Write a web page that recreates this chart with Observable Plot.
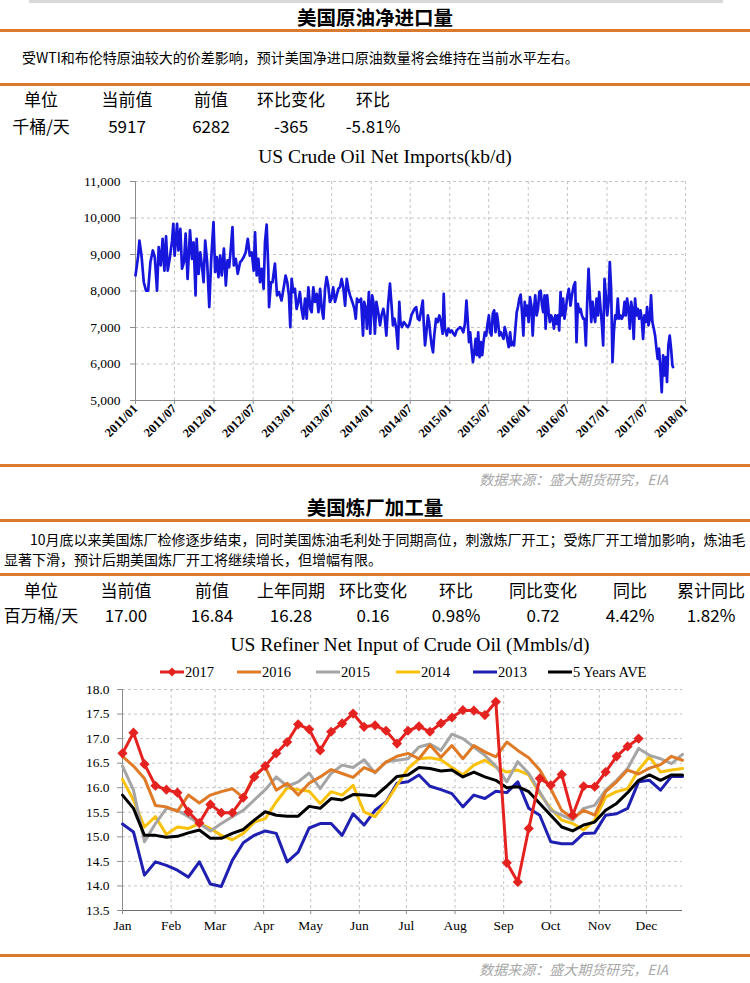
<!DOCTYPE html>
<html><head><meta charset="utf-8">
<script src="https://cdn.jsdelivr.net/npm/d3@7"></script>
<script src="https://cdn.jsdelivr.net/npm/@observablehq/plot@0.6"></script>
<style>
body{margin:0;background:#fff;}
#page{position:relative;width:750px;height:983px;overflow:hidden;font-family:"Noto Sans CJK SC",sans-serif;color:#000;background:#fff;}
.hr{position:absolute;left:0;width:750px;height:3px;background:#DB792C;}
.title{position:absolute;left:0;width:750px;text-align:center;font-size:19.5px;font-weight:bold;line-height:22px;}
.txt{position:absolute;font-size:14px;line-height:20px;white-space:nowrap;}
.src{position:absolute;font-size:14px;font-style:italic;color:#a8a8a8;line-height:18px;white-space:nowrap;transform:translateX(-100%);}
.cell{position:absolute;font-size:17px;line-height:20px;transform:translateX(-50%);white-space:nowrap;}
.ctitle{position:absolute;font-family:"Liberation Serif",serif;font-size:19.5px;line-height:22px;transform:translateX(-50%);white-space:nowrap;}
.leg{position:absolute;font-family:"Liberation Serif",serif;font-size:14.5px;line-height:16px;white-space:nowrap;display:flex;align-items:center;}
.chart{position:absolute;left:0;}
</style></head>
<body><div id="page"></div>
<script>
// ---------- data: chart 1 ----------
const importTicks = ["2011/01","2011/07","2012/01","2012/07","2013/01","2013/07","2014/01","2014/07","2015/01","2015/07","2016/01","2016/07","2017/01","2017/07","2018/01"];
const importYTicks = [5000,6000,7000,8000,9000,10000,11000];
// weeks since 2011-01-01
const importWeek = [0,1.8,2.6,4,5.5,7,8.4,9.9,11.5,12.8,14.3,15.4,16.8,18,19.2,20.3,21.4,22.7,24.3,25.1,26,27.6,28.5,29.8,30.9,32.2,33.3,34.6,36.2,37.5,38.6,39.9,40.6,41.9,43,44.1,45.2,46.3,47.6,49,50.3,51.8,52.9,54,55.1,56.2,57.3,58.7,60,61.1,62.2,63.3,64.4,65.3,66.6,67.9,69.5,70.6,71.9,73.2,74.6,75.9,77.2,78.5,79.4,80.5,81.6,82.7,83.8,85.1,86,
87.1,88.2,88.7,90,91,92.6,94,95.3,97,98.1,99.7,100.8,101.9,102.8,103.7,104.8,105.9,107,108.1,109.2,110.3,111.4,112.6,113.7,114.8,116.1,117,118.1,119.2,120.4,121.5,122.6,123.7,124.8,125.9,126.9,128,129.1,130.2,131.3,132.5,133.6,134.7,135.8,136.9,138,139.2,140.3,141.4,142.5,144,145.4,146.3,147.1,148.4,149.8,151.1,151.9,153,153.7,155,155.9,157.2,158,159,160,161.2,162.4,163.4,164.6,165.4,166.6,167.7,169,169.9,171,172,173.2,174.3,175.2,176,177,178.2,
179.8,180.9,182,183.2,184.2,185.3,186.4,187.5,188.6,189.7,190.8,191.4,192.3,193.2,194.2,195,195.9,196.7,197.6,198.4,199.6,200.7,201.8,202.9,204,204.7,205.5,206.7,207.8,209,210,211.1,212.2,213.3,214.5,215.5,216.6,217.7,218.8,219.8,220.6,221.5,222.3,223.2,224.1,225,225.9,226.7,227.6,228.5,229.4,230.3,231.1,232,232.9,233.8,234.7,235.5,236.4,237.3,238.2,239.1,240,240.8,241.7,242.6,243.5,244.4,245.2,246.1,247,247.9,248.8,249.7,250.5,251.4,252.3,253.2,254,254.9,255.8,256.7,257.6,258.5,259.3,260.2,261.1,262,262.9,263.8,264.7,265.5,266.4,267.3,268.2,269.1,270,270.8,
271.7,272.4,273.4,274.4,275.2,276.1,277,277.9,278.8,279.6,280.5,281.4,282.3,283.1,284,284.9,285.8,286.7,287.8,288.9,290,291.1,292,292.9,293.8,294.7,295.6,296.5,297.4,298.2,299.1,300,300.9,301.8,302.7,303.6,304.5,305.3,306.2,307.1,308,308.9,309.8,310.6,311.5,312.4,313.3,314.2,315,315.9,316.8,317.7,318.6,319.5,320.3,321.2,322.1,323,323.9,324.8,325.6,326.5,327.4,328.3,329.2,330,330.9,331.8,332.7,333.6,334.5,335.4,336.2,337.1,338,338.9,339.8,340.7,341.6,342.4,343.3,344.2,345.1,346,346.8,347.7,348.6,349.5,350.4,351.3,352.2,353,353.9,354.8,355.7,356.6,357];
const importKbd = [8425,8970,9380,8970,8240,8010,8010,8790,9110,8930,8010,9200,8700,9430,8560,9500,8560,8880,9380,9840,8970,9840,9110,9700,8610,8790,9570,8330,9660,8880,9330,7880,9430,8470,9060,8700,8240,9380,8790,7560,8880,9890,8520,8930,8380,8970,8425,9160,8150,8840,8650,9160,9750,8700,8880,8470,8790,8840,8930,9060,9430,8970,9060,8560,9610,8425,8880,8240,8610,8060,9330,
9820,8600,7560,8240,8240,8750,7880,7970,7740,8010,8425,8240,7880,7010,8330,7970,8060,7510,7700,7970,7510,7240,7790,7240,8100,7510,7420,8100,7700,7920,7420,8060,7510,7240,8060,8380,8150,7700,7790,8100,7700,7880,8060,8100,8330,8100,7600,8330,8060,7880,7700,7510,7240,7790,7700,7790,6780,7700,7510,6970,7970,6830,7880,7700,6830,7700,7420,7060,7330,7510,7330,6780,7600,8200,7700,7060,7240,6970,6420,7700,7150,7010,7150,
7060,7010,7100,7330,7420,7510,7560,7240,7200,7470,7740,7150,6510,6870,7330,7150,6780,6510,6320,6780,7240,7150,7330,7150,6830,7920,6970,6780,6970,6870,6920,6830,6780,6920,6970,7010,6970,6870,7100,7740,7240,6600,6870,6420,6050,6320,6690,6240,6870,6190,6600,6240,6600,6870,6780,7100,7330,6870,6780,7380,7470,6870,7380,7150,6780,6870,6780,6690,7010,6870,6650,6460,6870,6510,6600,6510,6970,7420,7560,7790,7900,7420,6780,7700,7330,7600,7150,7830,7600,6780,7510,7880,7330,7510,7970,8010,7600,7420,
7880,6970,7880,7420,7150,7330,7240,6970,7330,7100,7330,6920,7970,7330,7790,7240,7510,7830,8060,7600,7920,8150,8240,6600,7650,7420,7510,7330,7240,7240,6510,7700,8610,7880,7150,7700,7330,7150,7790,7330,7970,7510,7060,6510,8330,7880,7330,7700,8790,8060,6050,6870,7330,7240,7790,7240,7330,7240,7330,7700,7330,7790,7510,6970,7700,7510,6690,7790,7330,7510,7240,7470,7240,6690,7330,7150,7560,7060,7240,7880,7150,6970,6780,6420,6140,6420,5870,5230,6240,5690,6190,5510,6510,6780,6420,5960,5917];

// ---------- data: chart 2 ----------
const months = ["Jan","Feb","Mar","Apr","May","Jun","Jul","Aug","Sep","Oct","Nov","Dec"];
const refinerYTicks = [13.5,14.0,14.5,15.0,15.5,16.0,16.5,17.0,17.5,18.0];
const seriesNames = ["2017","2016","2015","2014","2013","5 Years AVE"];
const seriesColors = ["#E42320","#DF7A26","#A5A5A5","#F9C10A","#1F1FB2","#000000"];
const r2017 = [16.70,17.12,16.48,16.04,15.96,15.90,15.51,15.28,15.66,15.49,15.49,15.80,16.22,16.44,16.70,16.93,17.29,17.19,16.76,17.14,17.31,17.51,17.24,17.27,17.16,16.90,17.16,17.25,17.14,17.31,17.43,17.58,17.57,17.48,17.75,14.47,14.08,15.17,16.19,16.05,16.27,15.44,16.03,16.02,16.32,16.64,16.84,17.00];
const r2016 = [16.64,16.44,16.19,15.64,15.61,15.52,15.85,15.69,15.85,15.92,15.98,15.80,16.26,16.42,15.95,16.09,15.85,16.09,16.22,16.37,16.29,16.21,16.41,16.32,16.52,16.64,16.70,16.59,16.87,16.62,16.86,16.59,16.86,16.73,16.63,16.93,16.76,16.61,16.36,15.98,15.54,15.37,15.54,15.44,15.92,16.12,16.36,16.28,16.40,16.47,16.64,16.56];
const r2015 = [16.44,15.95,14.90,15.27,15.58,15.54,15.41,15.27,15.12,15.27,15.41,15.54,15.75,15.96,16.22,16.03,16.12,16.30,15.98,16.29,16.46,16.41,16.57,16.30,16.53,16.56,16.59,16.83,16.89,16.76,17.09,17.00,16.83,16.66,16.44,16.12,16.53,16.29,15.92,15.54,15.44,15.34,15.58,15.64,15.95,16.15,16.39,16.80,16.66,16.59,16.49,16.68];
const r2014 = [16.17,15.75,15.20,15.41,15.05,15.20,15.17,15.27,15.17,15.03,14.94,15.07,15.30,15.37,15.71,16.00,15.96,15.93,15.68,15.92,15.85,16.05,15.51,15.41,15.70,16.05,16.39,16.59,16.61,16.57,16.41,16.26,16.46,16.56,16.42,16.32,16.36,16.26,15.88,15.58,15.34,15.27,15.14,15.34,15.81,15.92,15.98,16.36,16.63,16.32,16.36,16.39];
const r2013 = [15.26,15.10,14.22,14.49,14.42,14.32,14.18,14.49,14.04,13.99,14.52,14.88,15.03,15.12,15.07,14.49,14.69,15.18,15.27,15.27,15.03,15.47,15.24,15.54,15.71,16.09,16.12,16.26,16.03,15.96,15.88,15.61,15.85,15.78,15.93,15.90,16.12,15.58,15.44,14.90,14.86,14.86,15.07,15.08,15.44,15.47,15.58,16.12,16.15,15.95,16.23,16.23];
const rAve = [15.85,15.58,15.03,15.03,14.99,15.01,15.08,15.14,14.97,14.97,15.07,15.15,15.34,15.51,15.44,15.42,15.42,15.62,15.58,15.78,15.75,15.86,15.85,15.83,16.02,16.23,16.26,16.41,16.39,16.34,16.36,16.22,16.32,16.22,16.15,16.00,16.02,15.92,15.68,15.44,15.20,15.12,15.24,15.30,15.54,15.68,15.90,16.15,16.26,16.15,16.26,16.26];

// ---------- text ----------
const title1 = "美国原油净进口量";
const note1 = "受WTI和布伦特原油较大的价差影响，预计美国净进口原油数量将会维持在当前水平左右。";
const table1Head = ["单位","当前值","前值","环比变化","环比"];
const table1Vals = ["千桶/天","5917","6282","-365","-5.81%"];
const chart1Title = "US Crude Oil Net Imports(kb/d)";
const sourceText = "数据来源：盛大期货研究，EIA";
const title2 = "美国炼厂加工量";
const note2a = "　　10月底以来美国炼厂检修逐步结束，同时美国炼油毛利处于同期高位，刺激炼厂开工；受炼厂开工增加影响，炼油毛";
const note2b = "显著下滑，预计后期美国炼厂开工将继续增长，但增幅有限。";
const table2Head = ["单位","当前值","前值","上年同期","环比变化","环比","同比变化","同比","累计同比"];
const table2Vals = ["百万桶/天","17.00","16.84","16.28","0.16","0.98%","0.72","4.42%","1.82%"];
const chart2Title = "US Refiner Net Input of Crude Oil (Mmbls/d)";

// ---------- layout ----------
const page = document.getElementById("page");
function add(cls, css, text){
  const d = document.createElement("div");
  d.className = cls; Object.assign(d.style, css);
  if (text !== undefined) d.textContent = text;
  page.appendChild(d); return d;
}
add("", {position:"absolute", left:"29px", top:"0px", width:"694px", height:"3px", background:"#d9d9d9"});
add("title", {top:"6px"}, title1);
add("hr", {top:"29px"});
add("txt", {left:"22px", top:"47px"}, note1);
add("hr", {top:"83px"});
const t1X = [41,127,211,291,373];
table1Head.forEach((t,i)=>add("cell",{left:t1X[i]+"px", top:"89px"}, t));
table1Vals.forEach((t,i)=>add("cell",{left:t1X[i]+"px", top:"116px"}, t));
add("ctitle", {left:"385px", top:"146px"}, chart1Title);
add("hr", {top:"464px"});
add("src", {left:"668px", top:"470px"}, sourceText);
add("title", {top:"496px"}, title2);
add("hr", {top:"519px"});
add("txt", {left:"2px", top:"529px"}, note2a);
add("txt", {left:"4px", top:"549px"}, note2b);
add("hr", {top:"573px"});
const t2X = [41,126,212,291,373,456,543,630,711];
table2Head.forEach((t,i)=>add("cell",{left:t2X[i]+"px", top:"580px"}, t));
table2Vals.forEach((t,i)=>add("cell",{left:t2X[i]+"px", top:"605px"}, t));
add("ctitle", {left:"410px", top:"634px"}, chart2Title);
add("hr", {top:"954px"});
add("src", {left:"668px", top:"960px"}, sourceText);

// legend
const legX = [160,237,316,396,473,548];
seriesNames.forEach((n,i)=>{
  const d = add("leg", {left:legX[i]+"px", top:"664px"});
  const mk = i===0 ? `<path d="M12,0.5 L16.5,5 L12,9.5 L7.5,5 Z" fill="${seriesColors[i]}"/>` : "";
  d.innerHTML = `<svg width="24" height="10" style="margin-right:1px"><line x1="0" x2="24" y1="5" y2="5" stroke="${seriesColors[i]}" stroke-width="3"/>${mk}</svg><span>${n}</span>`;
});

// ---------- chart 1 ----------
const t0 = Date.UTC(2011,0,1);
const imp = importWeek.map((w,i)=>({date:new Date(t0 + w*7*864e5), v:importKbd[i]}));
const parseYM = d3.utcParse("%Y/%m");
const xt1 = importTicks.map(parseYM);
const grid = {stroke:"#c4c4c4", strokeOpacity:1, strokeDasharray:"3,3"};
const c1 = Plot.plot({
  width:750, height:285, marginLeft:135, marginRight:65, marginTop:11, marginBottom:55,
  style:{fontFamily:"'Liberation Serif', serif", fontSize:"13px", background:"transparent", color:"#000"},
  x:{type:"utc", domain:[xt1[0], xt1[xt1.length-1]]},
  y:{domain:[5000,11000]},
  marks:[
    Plot.gridX(xt1, grid),
    Plot.gridY(importYTicks, grid),
    Plot.ruleX([xt1[0]], {stroke:"#8c8c8c"}),
    Plot.ruleY([5000], {stroke:"#8c8c8c"}),
    Plot.axisY(importYTicks, {tickFormat:d3.format(","), tickSize:5, tickPadding:10, stroke:"#8c8c8c", label:null, fontSize:13.5}),
    Plot.axisX(xt1, {tickFormat:d3.utcFormat("%Y/%m"), tickRotate:-45, tickSize:4, tickPadding:2, stroke:"#8c8c8c", label:null, fontWeight:"bold", fontSize:12.5}),
    Plot.line(imp, {x:"date", y:"v", stroke:"#1616DD", strokeWidth:2.7, strokeLinejoin:"round"})
  ]
});
const w1 = add("chart", {top:"170px"}); w1.appendChild(c1);

// ---------- chart 2 ----------
const wk = i => new Date(Date.UTC(2017,0,1+7*i));
const order = [4,3,2,1,5,0];
const allSeries = [r2017,r2016,r2015,r2014,r2013,rAve];
const ref = [];
order.forEach(k => allSeries[k].forEach((v,i)=>ref.push({s:seriesNames[k], date:wk(i), v})));
const red = r2017.map((v,i)=>({date:wk(i), v}));
const xt2 = months.map((m,i)=>new Date(Date.UTC(2017,i,1)));
const c2 = Plot.plot({
  width:750, height:260, marginLeft:122, marginRight:68, marginTop:9, marginBottom:30,
  style:{fontFamily:"'Liberation Serif', serif", fontSize:"13px", background:"transparent", color:"#000"},
  x:{type:"utc", domain:[wk(0), wk(51)]},
  y:{domain:[13.5,18]},
  color:{domain:seriesNames, range:seriesColors},
  marks:[
    Plot.gridX(xt2, grid),
    Plot.gridY(refinerYTicks, grid),
    Plot.ruleX([wk(0)], {stroke:"#8c8c8c"}),
    Plot.ruleY([13.5], {stroke:"#6e6e6e"}),
    Plot.axisY(refinerYTicks, {tickFormat:d3.format(".1f"), tickSize:5, tickPadding:8, stroke:"#8c8c8c", label:null, fontSize:13.5}),
    Plot.axisX(xt2, {tickFormat:(d,i)=>months[d.getUTCMonth()], tickSize:4, tickPadding:6, stroke:"#8c8c8c", label:null, fontSize:13.5}),
    Plot.line(ref, {x:"date", y:"v", z:"s", stroke:"s", strokeWidth:3, strokeLinejoin:"round"}),
    Plot.dot(red, {x:"date", y:"v", symbol:"diamond2", r:4.6, fill:seriesColors[0], stroke:null})
  ]
});
const w2 = add("chart", {top:"680px"}); w2.appendChild(c2);
</script></body></html>
